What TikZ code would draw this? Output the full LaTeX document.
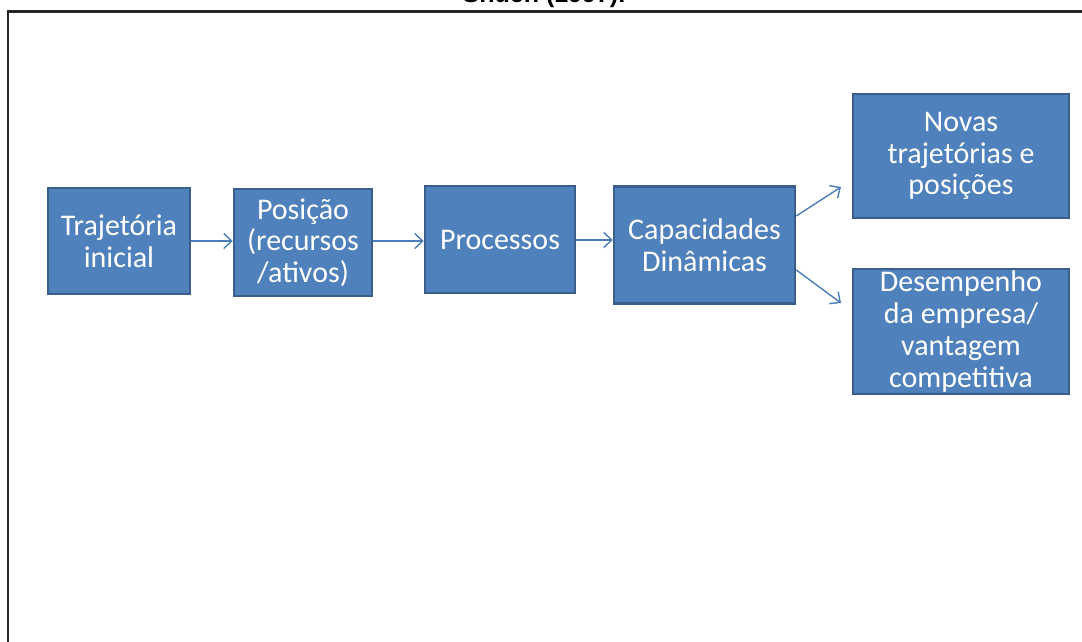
\documentclass[tikz,border=0pt]{standalone}
\usepackage{fontspec}
\setmainfont{Carlito}
\newfontfamily\titlefont{Liberation Sans}
\usetikzlibrary{arrows.meta}
\definecolor{boxfill}{HTML}{4F81BD}
\definecolor{boxline}{HTML}{3A5F8B}
\definecolor{arrowc}{HTML}{4A7EBB}
\begin{document}
\begin{tikzpicture}[x=1pt,y=-1pt,
  box/.style={draw=boxline, line width=2.5pt, fill=boxfill, text=white,
    align=center, inner sep=0pt, font=\fontsize{30}{31.7}\selectfont},
  conn/.style={draw=arrowc, line width=1.4pt, -{Straight Barb[length=8pt,width=15pt,line width=1.4pt]}}]
\useasboundingbox (0,0) rectangle (1082,642);
\fill[white] (0,0) rectangle (1082,642);
% title (cut off at the top, as in the reference)
\node[anchor=base, inner sep=0pt, font=\titlefont\bfseries\fontsize{25}{30}\selectfont] (title) at (544,3) {Shuen (1997).};
% frame
\draw[line width=2.5pt, black!85] (8,642) -- (8,11.5) -- (1082,11.5);
% boxes
\node[box, minimum width=142pt, minimum height=106pt, text depth=0pt] (a) at (119,241) {Trajetória\\inicial};
\node[box, minimum width=138pt, minimum height=107pt] (b) at (303,242.5) {Posição\\(recursos\\/ativos)};
\node[box, minimum width=150pt, minimum height=107pt] (c) at (500,239.5) {Processos};
\node[box, minimum width=181pt, minimum height=117pt] (d) at (704.5,245) {Capacidades\\Dinâmicas};
\node[box, minimum width=216pt, minimum height=124pt] (e) at (961,156) {Novas\\trajetórias e\\posições};
\node[box, minimum width=216pt, minimum height=125pt] (f) at (961,331.5) {Desempenho\\da empresa/\\vantagem\\competitiva};
% connectors
\coordinate (eend) at (841,187);
\coordinate (fend) at (841,303);
\draw[conn] (a.east |- 0,241) -- (b.west |- 0,241);
\draw[conn] (b.east |- 0,241) -- (c.west |- 0,241);
\draw[conn] (c.east |- 0,240) -- (d.west |- 0,240);
\draw[conn] (d.east |- 0,216) -- (eend);
\draw[conn] (d.east |- 0,270) -- (fend);
\end{tikzpicture}
\end{document}
